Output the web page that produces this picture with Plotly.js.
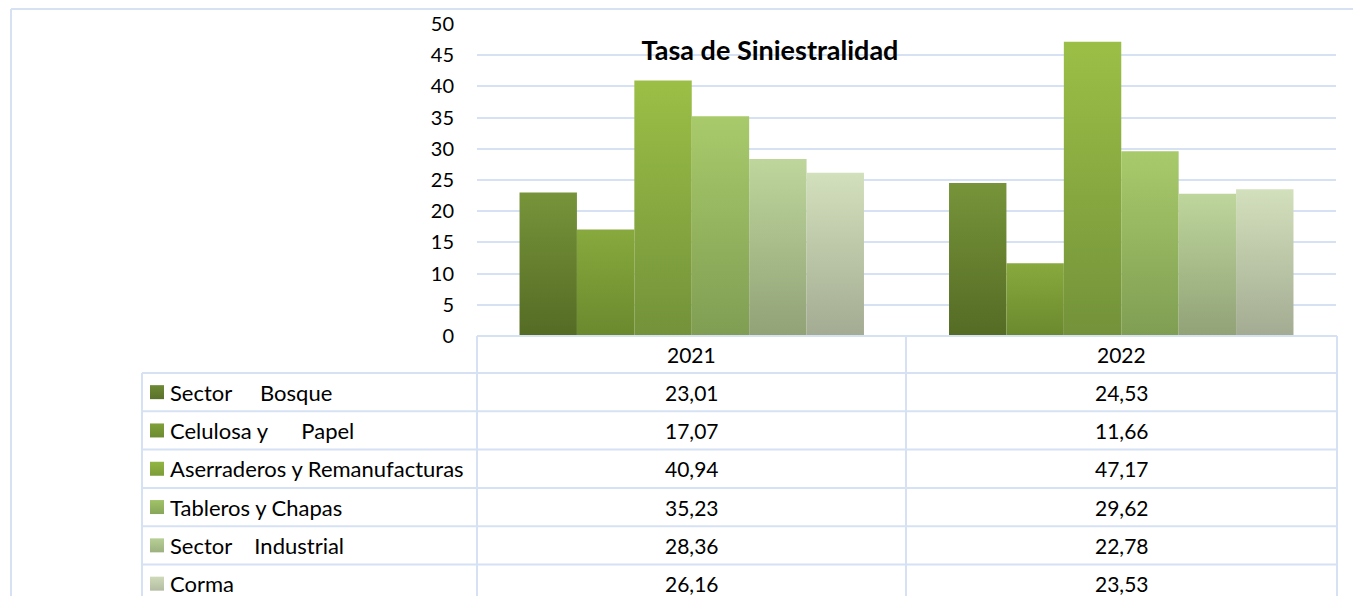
<!DOCTYPE html>
<html>
<head>
<meta charset="utf-8">
<script src="https://cdn.plot.ly/plotly-3.0.1.min.js"></script>
<style>
  html, body { margin:0; padding:0; background:#fff; overflow:hidden; }
  #chart { width:1353px; height:620px; }
</style>
</head>
<body>
<div id="chart"></div>
<script>
// ---- data ----
const years = ['2021', '2022'];
const seriesNames = ['Sector\u00a0\u00a0\u00a0\u00a0\u00a0Bosque', 'Celulosa y\u00a0\u00a0\u00a0\u00a0\u00a0\u00a0Papel',
  'Aserraderos y Remanufacturas', 'Tableros y Chapas', 'Sector\u00a0\u00a0\u00a0\u00a0Industrial', 'Corma'];
const sectorBosque = [23.01, 24.53];
const celulosaPapel = [17.07, 11.66];
const aserraderos = [40.94, 47.17];
const tablerosChapas = [35.23, 29.62];
const sectorIndustrial = [28.36, 22.78];
const corma = [26.16, 23.53];
const seriesValues = [sectorBosque, celulosaPapel, aserraderos, tablerosChapas, sectorIndustrial, corma];
const yTicks = [0, 5, 10, 15, 20, 25, 30, 35, 40, 45, 50];
const chartTitle = 'Tasa de Siniestralidad';

// ---- styles / layout geometry ----
const gradTop = ['#77943a', '#88a93d', '#9bbf46', '#a9ca6b', '#bed69c', '#d3e0bc'];
const gradBot = ['#546b24', '#6a892e', '#73923a', '#809e53', '#91a277', '#a3ab92'];
const swatchTop = ['#6e8a34', '#80a03a', '#92b642', '#a0c266', '#b7cf96', '#cfdab9'];
const swatchBot = ['#59712a', '#6c8b30', '#7c9c38', '#88a65a', '#9cb17f', '#b3bca2'];
const gridCol = '#d6e2f3';
const W = 1353, H = 620;
const px = x => x / W, py = y => 1 - y / H;
const plotL = 477, plotR = 1336, plotT = 24, plotB = 336;
const tblL = 142, colX = [477, 906, 1337];
const headTop = 336, headBot = 373, rowH = 38.3;
const txtFont = { family: 'Lato', size: 21, color: '#000' };
const lblFont = { family: 'Lato', size: 22, color: '#000' };

const barTraces = seriesNames.map((n, i) => ({
  type: 'bar', name: n, x: years, y: seriesValues[i],
  marker: { color: gradTop[i], line: { width: 0 } },
  hoverinfo: 'none'
}));

const fmt = v => v.toFixed(2).replace('.', ',');

// ---- data table (lines + texts) ----
const shapes = [
  // outer chart frame
  { type: 'line', xref: 'paper', yref: 'paper', x0: px(11), x1: 1.02, y0: py(9), y1: py(9), line: { color: gridCol, width: 2 } },
  { type: 'line', xref: 'paper', yref: 'paper', x0: px(11), x1: px(11), y0: py(9), y1: -0.05, line: { color: gridCol, width: 2 } }
];
const annotations = [];
const hline = (x0, x1, y) => shapes.push({ type: 'line', xref: 'paper', yref: 'paper', x0: px(x0), x1: px(x1), y0: py(y), y1: py(y), line: { color: gridCol, width: 2 } });
const vline = (x, y0, y1) => shapes.push({ type: 'line', xref: 'paper', yref: 'paper', x0: px(x), x1: px(x), y0: py(y0), y1: py(y1), line: { color: gridCol, width: 2 } });

hline(colX[0], colX[2], headTop);
const nRows = seriesNames.length;
const tblBot = headBot + rowH * nRows;
for (let r = 0; r <= nRows; r++) hline(tblL, colX[2], headBot + rowH * r);
vline(tblL, headBot, tblBot);
colX.forEach(x => vline(x, headTop, tblBot));

years.forEach((yr, c) => {
  annotations.push({ xref: 'paper', yref: 'paper', x: px((colX[c] + colX[c + 1]) / 2), y: py((headTop + headBot) / 2),
    text: yr, showarrow: false, xanchor: 'center', yanchor: 'middle', font: txtFont });
});
seriesNames.forEach((n, r) => {
  const yc = headBot + rowH * (r + 0.5);
  annotations.push({ xref: 'paper', yref: 'paper', x: px(168), y: py(yc), text: n, showarrow: false,
    xanchor: 'left', yanchor: 'middle', font: lblFont });
  shapes.push({ type: 'rect', xref: 'paper', yref: 'paper', x0: px(150), x1: px(164), y0: py(yc - 7), y1: py(yc + 7),
    fillcolor: swatchTop[r], line: { width: 0 }, name: 'swatch' + r });
  seriesValues[r].forEach((v, c) => {
    annotations.push({ xref: 'paper', yref: 'paper', x: px((colX[c] + colX[c + 1]) / 2), y: py(yc),
      text: fmt(v), showarrow: false, xanchor: 'center', yanchor: 'middle', font: txtFont });
  });
});

const layout = {
  width: W, height: H,
  margin: { l: 0, r: 0, t: 0, b: 0 },
  paper_bgcolor: 'white', plot_bgcolor: 'white',
  showlegend: false,
  barmode: 'group', bargap: 0.198, bargroupgap: 0,
  font: { family: 'Lato', color: '#000' },
  title: { text: chartTitle, x: px(770), y: py(51), xanchor: 'center', yanchor: 'middle',
    font: { family: 'Lato', size: 27, weight: 'bold', color: '#000' } },
  xaxis: { domain: [px(plotL), px(plotR)], showticklabels: false, showgrid: false, zeroline: false, showline: false, ticks: '' },
  yaxis: { domain: [py(plotB), py(plotT)], range: [0, 50], tickvals: yTicks, showgrid: true, gridcolor: gridCol, gridwidth: 2,
    zeroline: false, showline: false, ticks: '', ticklabelstandoff: 22,
    tickfont: { family: 'Lato', size: 20, color: '#000' } },
  shapes: shapes,
  annotations: annotations
};

function applyGradients(gd) {
  const ns = 'http://www.w3.org/2000/svg';
  const svg = gd.querySelector('.main-svg');
  let defs = svg.querySelector('defs');
  if (!defs) { defs = document.createElementNS(ns, 'defs'); svg.insertBefore(defs, svg.firstChild); }
  const mk = (id, a, b) => {
    if (document.getElementById(id)) return;
    const lg = document.createElementNS(ns, 'linearGradient');
    lg.setAttribute('id', id);
    lg.setAttribute('x1', '0'); lg.setAttribute('y1', '0'); lg.setAttribute('x2', '0'); lg.setAttribute('y2', '1');
    [[0, a], [1, b]].forEach(([o, col]) => {
      const s = document.createElementNS(ns, 'stop');
      s.setAttribute('offset', o); s.setAttribute('stop-color', col);
      lg.appendChild(s);
    });
    defs.appendChild(lg);
  };
  gradTop.forEach((c, i) => { mk('bargrad' + i, c, gradBot[i]); mk('swgrad' + i, swatchTop[i], swatchBot[i]); });
  gd.querySelectorAll('.barlayer .trace').forEach((tr, i) => {
    tr.querySelectorAll('path').forEach(p => { p.style.fill = 'url(#bargrad' + i + ')'; });
  });
  gd.querySelectorAll('.shapelayer path').forEach(p => {
    const f = p.style.fill;
    swatchTop.forEach((c, i) => {
      const tmp = document.createElement('div'); tmp.style.color = c;
      if (f === tmp.style.color) p.style.fill = 'url(#swgrad' + i + ')';
    });
  });
}

const gd = document.getElementById('chart');
Plotly.newPlot(gd, barTraces, layout, { staticPlot: true, displayModeBar: false })
  .then(() => applyGradients(gd));
</script>
</body>
</html>
